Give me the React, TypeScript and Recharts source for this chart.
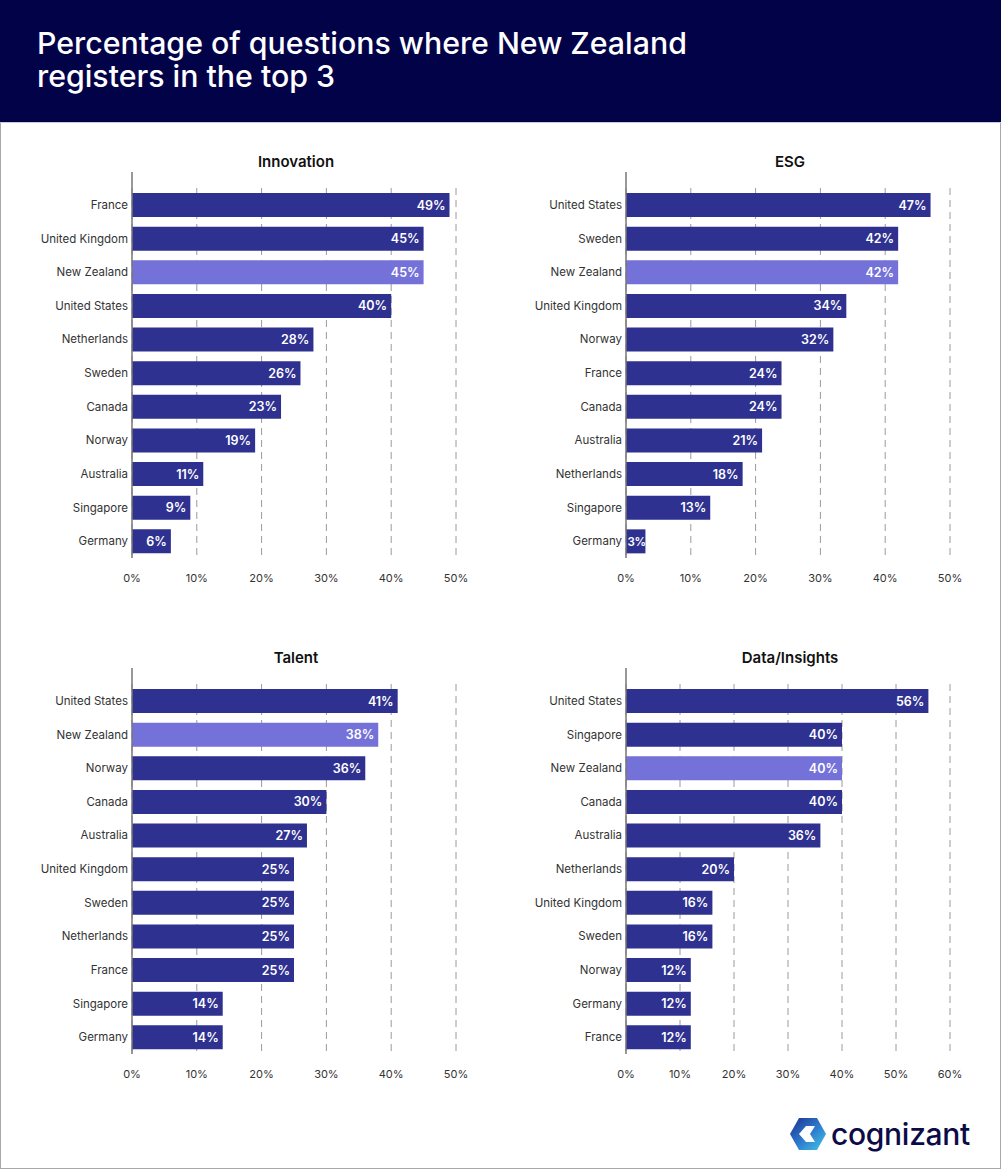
import React from 'react';
import { BarChart, Bar, XAxis, YAxis, CartesianGrid, LabelList, Cell } from 'recharts';

const innovationCountries = ['France', 'United Kingdom', 'New Zealand', 'United States', 'Netherlands', 'Sweden', 'Canada', 'Norway', 'Australia', 'Singapore', 'Germany'];
const innovationValues = [49, 45, 45, 40, 28, 26, 23, 19, 11, 9, 6];

const esgCountries = ['United States', 'Sweden', 'New Zealand', 'United Kingdom', 'Norway', 'France', 'Canada', 'Australia', 'Netherlands', 'Singapore', 'Germany'];
const esgValues = [47, 42, 42, 34, 32, 24, 24, 21, 18, 13, 3];

const talentCountries = ['United States', 'New Zealand', 'Norway', 'Canada', 'Australia', 'United Kingdom', 'Sweden', 'Netherlands', 'France', 'Singapore', 'Germany'];
const talentValues = [41, 38, 36, 30, 27, 25, 25, 25, 25, 14, 14];

const dataCountries = ['United States', 'Singapore', 'New Zealand', 'Canada', 'Australia', 'Netherlands', 'United Kingdom', 'Sweden', 'Norway', 'Germany', 'France'];
const dataValues = [56, 40, 40, 40, 36, 20, 16, 16, 12, 12, 12];

const ticks50 = [0, 10, 20, 30, 40, 50];
const ticks60 = [0, 10, 20, 30, 40, 50, 60];

const FONT = 'Inter, "Open Sans", sans-serif';
const BAR = '#2e3190';
const HIGHLIGHT = '#7472d8';

// value label inside the bar end; tiny bars get a tighter, left-anchored label
function ValueLabel(props: any) {
  const { x, y, width, height, value } = props;
  const small = width < 26;
  return (
    <text
      x={small ? x + 1.5 : x + width - 4}
      y={y + height / 2}
      dy="0.36em"
      textAnchor={small ? 'start' : 'end'}
      fill="#fff"
      fontSize={small ? 11.5 : 12.5}
      fontWeight={600}
      fontFamily={FONT}
      letterSpacing={small ? -0.4 : 0}
    >
      {`${value}%`}
    </text>
  );
}

interface PanelProps {
  title: string;
  countries: string[];
  values: number[];
  ticks: number[];
  left: number;
  top: number;
}

function Panel({ title, countries, values, ticks, left, top }: PanelProps) {
  const rows = countries.map((c, i) => ({ country: c, value: values[i] }));
  const max = ticks[ticks.length - 1];
  return (
    <>
      <div
        style={{
          position: 'absolute',
          left: left + 132,
          top: top - 18,
          width: 328,
          textAlign: 'center',
          fontSize: 15,
          fontWeight: 600,
          color: '#111',
        }}
      >
        {title}
      </div>
      <div style={{ position: 'absolute', left, top }}>
        <BarChart
          width={490}
          height={430}
          data={rows}
          layout="vertical"
          margin={{ top: 2, right: 34, left: 0, bottom: 0 }}
          barSize={24}
        >
          <CartesianGrid
            horizontal={false}
            stroke="#999"
            strokeDasharray="7 5"
            vertical={(p: any) => (
              <line
                key={`g-${p.index}-${p.x1}`}
                x1={p.x1}
                x2={p.x2}
                y1={p.y1 + 16}
                y2={p.y2}
                stroke="#9a9a9a"
                strokeDasharray="7 5"
              />
            )}
          />
          <XAxis
            type="number"
            domain={[0, max]}
            ticks={ticks}
            tickFormatter={(v) => `${v}%`}
            axisLine={false}
            tickLine={false}
            tickSize={0}
            tickMargin={16}
            height={42}
            tick={{ fontSize: 11, fill: '#333', fontFamily: FONT }}
            interval={0}
          />
          <YAxis
            type="category"
            dataKey="country"
            width={132}
            padding={{ top: 16, bottom: 0 }}
            axisLine={{ stroke: '#777', strokeWidth: 1.5 }}
            tickLine={false}
            tickSize={0}
            tickMargin={4}
            tick={{ fontSize: 11.5, fill: '#333', fontFamily: FONT }}
            interval={0}
          />
          <Bar dataKey="value" isAnimationActive={false}>
            {rows.map((r) => (
              <Cell key={r.country} fill={r.country === 'New Zealand' ? HIGHLIGHT : BAR} />
            ))}
            <LabelList dataKey="value" content={ValueLabel} />
          </Bar>
        </BarChart>
      </div>
    </>
  );
}

function Logo() {
  return (
    <div style={{ position: 'absolute', left: 788, top: 1114, display: 'flex', alignItems: 'center' }}>
      <svg width={40} height={40} viewBox="0 0 40 40">
        <defs>
          <linearGradient id="lg" x1="0" y1="0" x2="1" y2="1">
            <stop offset="0" stopColor="#1c2f8f" />
            <stop offset="0.55" stopColor="#2f7fd0" />
            <stop offset="1" stopColor="#45c9e6" />
          </linearGradient>
        </defs>
        <polygon points="2,20 11,4 29,4 38,20 29,36 11,36" fill="url(#lg)" />
        <polygon points="11,20 18,12 27,12 22,20 27,28 18,28" fill="#fff" />
      </svg>
      <span style={{ fontSize: 30, fontWeight: 500, color: '#0b0b48', marginLeft: 3, letterSpacing: -0.3 }}>
        cognizant
      </span>
    </div>
  );
}

export default function App() {
  return (
    <div
      style={{
        position: 'absolute',
        left: 0,
        top: 0,
        width: 1001,
        height: 1169,
        background: '#fff',
        boxShadow: 'inset 0 0 0 1px #a8a8a8',
        fontFamily: FONT,
        overflow: 'hidden',
      }}
    >
      <div
        style={{
          position: 'absolute',
          left: 0,
          top: 0,
          width: 1001,
          height: 122,
          background: '#020249',
          borderBottom: '1px solid #c9c9e6',
        }}
      >
        <div
          style={{
            position: 'absolute',
            left: 37,
            top: 27,
            fontSize: 30.3,
            fontWeight: 500,
            lineHeight: '33px',
            color: '#fff',
          }}
        >
          Percentage of questions where New Zealand
          <br />
          registers in the top 3
        </div>
      </div>
      <Panel title="Innovation" countries={innovationCountries} values={innovationValues} ticks={ticks50} left={0} top={170} />
      <Panel title="ESG" countries={esgCountries} values={esgValues} ticks={ticks50} left={494} top={170} />
      <Panel title="Talent" countries={talentCountries} values={talentValues} ticks={ticks50} left={0} top={666} />
      <Panel title="Data/Insights" countries={dataCountries} values={dataValues} ticks={ticks60} left={494} top={666} />
      <Logo />
    </div>
  );
}
